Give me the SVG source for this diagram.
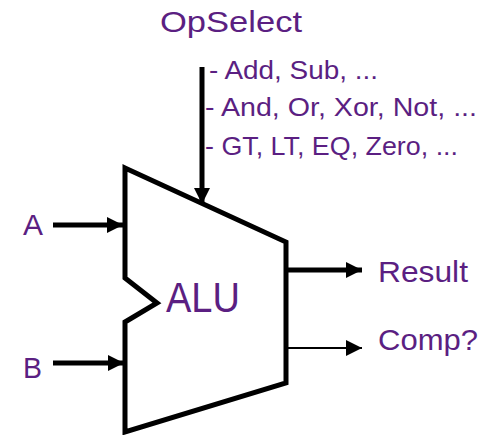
<svg xmlns="http://www.w3.org/2000/svg" width="499" height="435" viewBox="0 0 499 435">
  <style>
    .lbl { font-family: "Liberation Sans", Arial, sans-serif; fill: #5B1F82; }
    .wire { stroke: #000; fill: none; }
  </style>
  <defs>
    <marker id="head" viewBox="0 0 16 16" refX="16" refY="8" markerWidth="16" markerHeight="16" markerUnits="userSpaceOnUse" orient="auto">
      <path d="M0,0 L16,8 L0,16 Z" fill="#000"/>
    </marker>
  </defs>

  <rect width="499" height="435" fill="#fff"/>

  <!-- ALU body -->
  <g id="alu">
    <path d="M125,168 L286,242 L286,383 L125,432 L125,322 L157,303 L125,278 Z" fill="none" stroke="#000" stroke-width="5" stroke-linejoin="miter"/>
    <text class="lbl" x="166" y="312" font-size="42" textLength="74" lengthAdjust="spacingAndGlyphs">ALU</text>
  </g>

  <!-- labels -->
  <g id="opselect">
    <text class="lbl" x="160" y="32" font-size="29" textLength="142" lengthAdjust="spacingAndGlyphs">OpSelect</text>
    <text class="lbl" x="209" y="79" font-size="26" textLength="169" lengthAdjust="spacingAndGlyphs">- Add, Sub, ...</text>
    <text class="lbl" x="205" y="116" font-size="26" textLength="272" lengthAdjust="spacingAndGlyphs">- And, Or, Xor, Not, ...</text>
    <text class="lbl" x="205" y="155" font-size="26" textLength="253" lengthAdjust="spacingAndGlyphs">- GT, LT, EQ, Zero, ...</text>
  </g>
  <g id="inA">
    <text class="lbl" x="23" y="235" font-size="30" textLength="20" lengthAdjust="spacingAndGlyphs">A</text>
  </g>
  <g id="inB">
    <text class="lbl" x="23" y="378" font-size="30" textLength="19" lengthAdjust="spacingAndGlyphs">B</text>
  </g>
  <g id="result">
    <text class="lbl" x="378" y="282" font-size="30" textLength="90" lengthAdjust="spacingAndGlyphs">Result</text>
  </g>
  <g id="comp">
    <text class="lbl" x="378" y="350" font-size="30" textLength="100" lengthAdjust="spacingAndGlyphs">Comp?</text>
  </g>

  <!-- connectors -->
  <g id="connectors">
    <line class="wire" x1="202" y1="67" x2="202" y2="204" stroke-width="5" marker-end="url(#head)"/>
    <line class="wire" x1="53" y1="225" x2="123" y2="225" stroke-width="5" marker-end="url(#head)"/>
    <line class="wire" x1="53" y1="363" x2="124" y2="363" stroke-width="5" marker-end="url(#head)"/>
    <line class="wire" x1="286" y1="270" x2="362" y2="270" stroke-width="5" marker-end="url(#head)"/>
    <line class="wire" x1="286" y1="348" x2="362" y2="348" stroke-width="2" marker-end="url(#head)"/>
  </g>
</svg>
